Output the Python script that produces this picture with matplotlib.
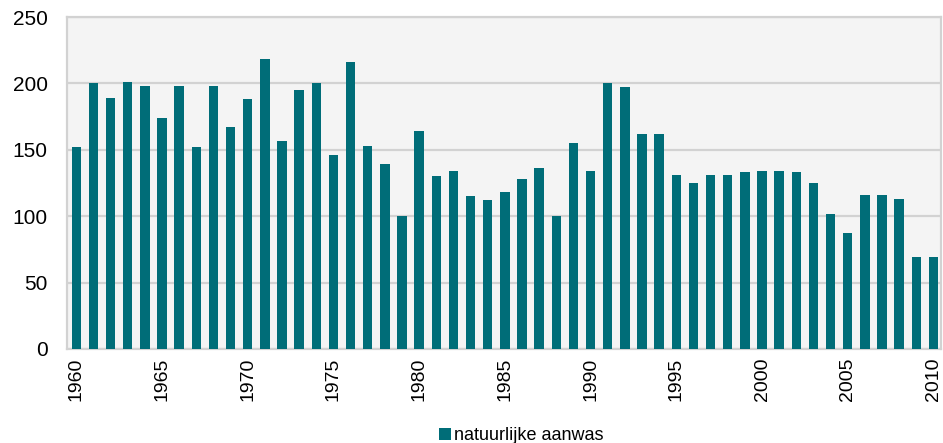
import numpy as np
import matplotlib
matplotlib.use('Agg')
from matplotlib import pyplot as plt

plt.rcParams['font.family'] = ['Liberation Sans', 'DejaVu Sans']

years = list(range(1960, 2011))
aanwas = [152, 200, 189, 201, 198, 174, 198, 152, 198, 167,
          188, 218, 157, 195, 200, 146, 216, 153, 139, 100,
          164, 130, 134, 115, 112, 118, 128, 136, 100, 155,
          134, 200, 197, 162, 162, 131, 125, 131, 131, 133,
          134, 134, 133, 125, 102, 87, 116, 116, 113, 69, 69]
series_label = 'natuurlijke aanwas'
yticks = [0, 50, 100, 150, 200, 250]

bar_color = '#006d78'
grid_color = '#d2d2d2'

fig = plt.figure(figsize=(9.43, 4.43), dpi=100)
ax = fig.add_axes([67 / 943, 94 / 443, 874 / 943, 332 / 443])
ax.set_facecolor('#f4f4f4')

x = np.arange(len(years))
ax.bar(x, aanwas, width=0.55, color=bar_color, label=series_label, zorder=3)

ax.set_ylim(0, 250)
ax.set_xlim(-0.54, len(years) - 0.56)
ax.set_yticks(yticks)
ax.set_yticklabels([str(v) for v in yticks], fontsize=15)
ax.yaxis.grid(True, color=grid_color, linewidth=1.6, zorder=0)

# only every 5th year gets a label
tick_idx = [i for i, y in enumerate(years) if y % 5 == 0]
ax.set_xticks(tick_idx)
ax.set_xticklabels([str(years[i]) for i in tick_idx], rotation=90, fontsize=14,
                   va='top', ha='center')

ax.tick_params(axis='y', length=0, pad=14)
ax.tick_params(axis='x', length=0, pad=6)
for side in ['left', 'right', 'top', 'bottom']:
    ax.spines[side].set_color(grid_color)
    ax.spines[side].set_linewidth(1.6)

fig.legend(loc='lower center', bbox_to_anchor=(0.553, -0.04), frameon=False,
           fontsize=13, handlelength=0.65, handleheight=0.65, handletextpad=0.2)

fig.savefig('out.png', dpi=100)
